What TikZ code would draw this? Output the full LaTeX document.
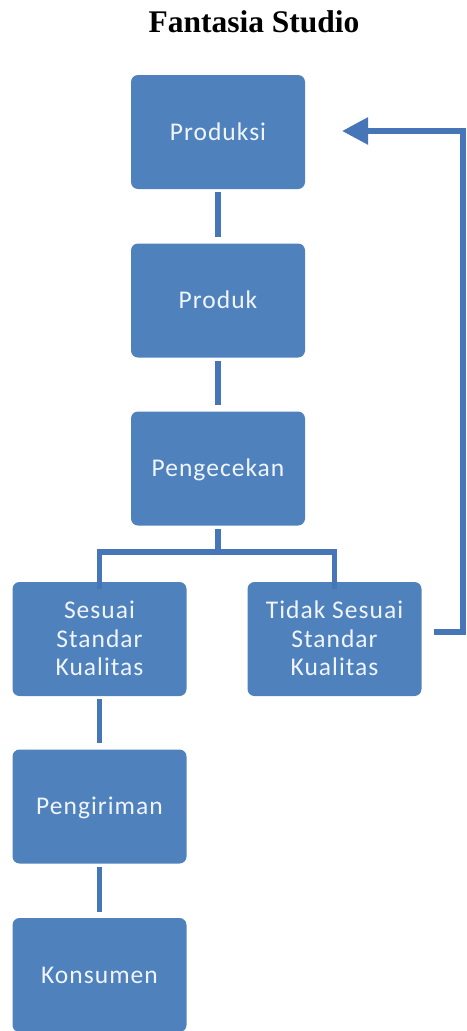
\documentclass[tikz,border=0pt]{standalone}
\usepackage{fontspec}
\newfontfamily\boxfont[LetterSpace=4]{Carlito}
\newfontfamily\titlefont{Liberation Serif}
\usetikzlibrary{arrows.meta}
\definecolor{boxblue}{HTML}{4F81BD}
\definecolor{lineblue}{HTML}{4676B8}
\definecolor{boxtext}{HTML}{F0F5FC}
\tikzset{
  stepbox/.style={rounded corners=7pt, fill=boxblue, minimum width=174pt, minimum height=114pt,
    inner sep=0pt, text=boxtext, align=center,
    font=\boxfont\fontsize{25.5}{28.5}\selectfont, text height=16.4pt, text depth=0pt},
  threeline/.style={text height=73.4pt},
  conn/.style={draw=lineblue, line width=5.5pt},
}
\begin{document}
\begin{tikzpicture}[x=1pt,y=-1pt]
\useasboundingbox (0,0) rectangle (466,1031);
\node[font=\titlefont\bfseries\fontsize{31.5}{36}\selectfont, anchor=base, inner sep=0pt] (title) at (254,32) {Fantasia Studio};
\node[stepbox] (produksi) at (218,132) {Produksi};
\node[stepbox] (produk) at (218,300.5) {Produk};
\node[stepbox] (cek) at (218,468.5) {Pengecekan};
\node[stepbox, threeline] (sesuai) at (99.5,639) {Sesuai\\Standar\\Kualitas};
\node[stepbox, threeline] (tidak) at (334.5,639) {Tidak Sesuai\\Standar\\Kualitas};
\node[stepbox] (kirim) at (99.5,806.5) {Pengiriman};
\node[stepbox] (konsumen) at (99.5,975) {Konsumen};
% straight connectors
\draw[conn, shorten <=3pt, shorten >=6pt] (produksi.south) -- (produk.north);
\draw[conn, shorten <=3pt, shorten >=6pt] (produk.south) -- (cek.north);
\draw[conn, shorten <=3pt, shorten >=6pt] (sesuai.south) -- (kirim.north);
\draw[conn, shorten <=3pt, shorten >=6pt] (kirim.south) -- (konsumen.north);
% branch
\coordinate (branch) at (218,552);
\coordinate (ls) at ([yshift=-7pt]sesuai.north);
\coordinate (rs) at ([yshift=-7pt]tidak.north);
\draw[conn, shorten <=3pt] (cek.south) -- (branch);
\draw[conn] (ls) |- (branch) -| (rs);
% feedback
\coordinate (fbstart) at ([xshift=12pt]tidak.east |- 0,632);
\coordinate (fbcorner1) at (463,632);
\coordinate (fbcorner2) at (463,131);
\coordinate (fbtip) at (342,131);
\draw[conn, -{Triangle[length=26pt,width=26pt]}] (fbstart) -- (fbcorner1) -- (fbcorner2) -- (fbtip);
\end{tikzpicture}
\end{document}
